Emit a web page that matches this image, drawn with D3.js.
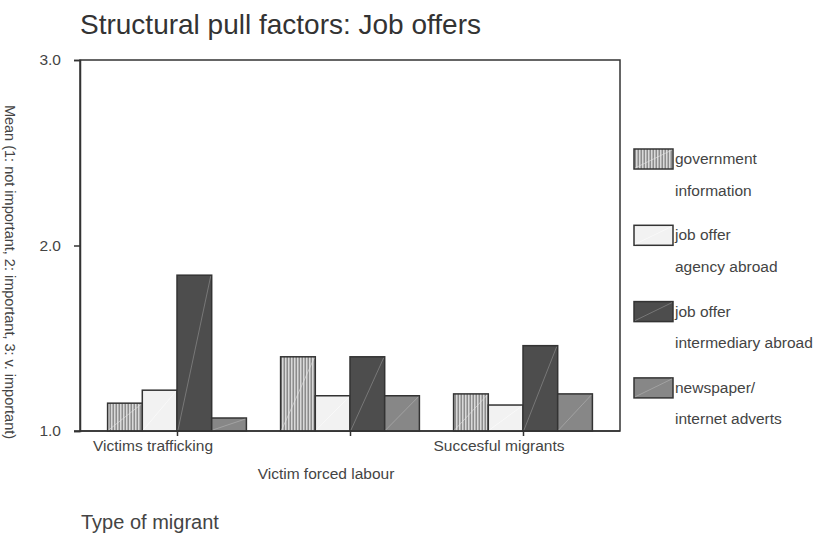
<!DOCTYPE html>
<html><head><meta charset="utf-8">
<script src="https://cdn.jsdelivr.net/npm/d3@7"></script>
<style>body{margin:0;background:#fff}svg{display:block;font-family:"Liberation Sans",Arial,sans-serif}</style>
</head><body>
<svg id="c" width="816" height="539"></svg>
<script>
const categories = ["Victims trafficking", "Victim forced labour", "Succesful migrants"];
const seriesNames = ["government information", "job offer agency abroad", "job offer intermediary abroad", "newspaper/ internet adverts"];
const legendLines = [["government", "information"], ["job offer", "agency abroad"], ["job offer", "intermediary abroad"], ["newspaper/", "internet adverts"]];
const government = [1.15, 1.40, 1.20];
const agency = [1.22, 1.19, 1.14];
const intermediary = [1.84, 1.40, 1.46];
const newspaper = [1.07, 1.19, 1.20];
const yTicks = [1.0, 2.0, 3.0];
const title = "Structural pull factors: Job offers";
const xTitle = "Type of migrant";
const yTitle = "Mean (1: not important, 2: important, 3: v. important)";

const seriesValues = [government, agency, intermediary, newspaper];
const fills = ["url(#stripes)", "#f2f2f2", "#4d4d4d", "#878787"];
const diagColors = ["#e6e6e6", "#ffffff", "#9a9a9a", "#b8b8b8"];

const svg = d3.select("#c");
const defs = svg.append("defs");
const pat = defs.append("pattern").attr("id", "stripes").attr("patternUnits", "userSpaceOnUse")
  .attr("width", 3).attr("height", 10);
pat.append("rect").attr("width", 3).attr("height", 10).attr("fill", "#d9d9d9");
pat.append("rect").attr("x", 1.5).attr("width", 1.5).attr("height", 10).attr("fill", "#8c8c8c");

const L = 80, R = 620, T = 60, B = 431;
const y = d3.scaleLinear().domain([1, 3]).range([B, T]);
const bw = 34.7;
const x1 = d3.scaleBand().domain(seriesNames).range([-2 * bw, 2 * bw]);
const xc = d3.scalePoint().domain(categories).range([177, 523]);

// title
svg.append("text").attr("x", 80).attr("y", 34).attr("font-size", 28).attr("fill", "#333").text(title);

// frame
svg.append("rect").attr("x", L).attr("y", T).attr("width", R - L).attr("height", B - T)
  .attr("fill", "none").attr("stroke", "#333").attr("stroke-width", 1.5);

// bars
const g = svg.append("g");
categories.forEach((c, ci) => {
  seriesNames.forEach((s, si) => {
    const v = seriesValues[si][ci];
    const bx = xc(c) + x1(s);
    const by = y(v);
    g.append("rect").attr("x", bx).attr("y", by).attr("width", x1.bandwidth()).attr("height", y(1) - by)
      .attr("fill", fills[si]).attr("stroke", "#333").attr("stroke-width", 1.5);
    g.append("line").attr("x1", bx + 1).attr("y1", y(1) - 1).attr("x2", bx + x1.bandwidth() - 1).attr("y2", by + 1)
      .attr("stroke", diagColors[si]).attr("stroke-width", 0.7).attr("opacity", 0.8);
  });
});

// y axis
const ya = svg.append("g").attr("transform", `translate(${L},0)`)
  .call(d3.axisLeft(y).tickValues(yTicks).tickFormat(d3.format(".1f")).tickSizeOuter(0).tickSize(6));
ya.select(".domain").attr("stroke", "#333").attr("stroke-width", 1.5);
ya.selectAll(".tick line").attr("stroke", "#333").attr("stroke-width", 1.5);
ya.selectAll(".tick text").attr("font-size", 15.5).attr("fill", "#444").attr("x", -19).attr("font-family", "Liberation Sans, Arial, sans-serif");

// x axis
const xa = svg.append("g").attr("transform", `translate(0,${B})`)
  .call(d3.axisBottom(xc).tickSize(5).tickSizeOuter(0).tickFormat(""));
xa.select(".domain").attr("stroke", "#333").attr("stroke-width", 1.5).attr("d", `M${L - 6},0H${R}`);
xa.selectAll(".tick line").attr("stroke", "#333").attr("stroke-width", 1.5);
categories.forEach((c, i) => {
  svg.append("text").attr("x", xc(c) - 24).attr("y", i === 1 ? 479 : 451)
    .attr("text-anchor", "middle").attr("font-size", 15.5).attr("fill", "#444").text(c);
});

// axis titles
svg.append("text").attr("x", 81).attr("y", 529).attr("font-size", 20).attr("fill", "#444").text(xTitle);
svg.append("text").attr("transform", `translate(5,272) rotate(90)`).attr("text-anchor", "middle")
  .attr("font-size", 14.5).attr("fill", "#444").text(yTitle);

// legend
legendLines.forEach((lines, i) => {
  const ly = 149 + i * 76.3;
  svg.append("rect").attr("x", 634).attr("y", ly).attr("width", 39).attr("height", 20)
    .attr("fill", fills[i]).attr("stroke", "#333").attr("stroke-width", 1.5);
  svg.append("line").attr("x1", 635).attr("y1", ly + 19).attr("x2", 672).attr("y2", ly + 1)
    .attr("stroke", diagColors[i]).attr("stroke-width", 0.7).attr("opacity", 0.8);
  lines.forEach((t, j) => {
    svg.append("text").attr("x", 675).attr("y", ly + 15 + j * 31.5).attr("font-size", 15.5).attr("fill", "#444").text(t);
  });
});
</script>
</body></html>
